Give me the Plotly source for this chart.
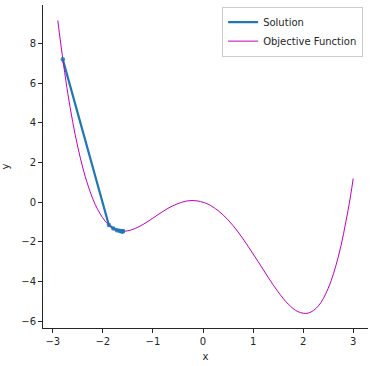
import plotly.graph_objects as go

# Objective function samples
obj_x = [-2.9, -2.7, -2.5, -2.3, -2.1, -1.9, -1.7, -1.5, -1.3, -1.1, -0.9, -0.7, -0.5, -0.3, -0.1,
         0.1, 0.3, 0.5, 0.7, 0.9, 1.1, 1.3, 1.5, 1.7, 1.9, 2.1, 2.3, 2.5, 2.7, 2.9, 3.0]
obj_y = [9.16, 5.49, 2.78, 0.87, -0.38, -1.10, -1.42, -1.44, -1.26, -0.97, -0.63, -0.31, -0.07, 0.07, 0.06,
         -0.10, -0.42, -0.89, -1.50, -2.22, -2.99, -3.78, -4.52, -5.13, -5.52, -5.59, -5.24, -4.34, -2.77, -0.36, 1.20]

# Solution path
sol_x = [-2.8, -1.88, -1.79, -1.72, -1.67, -1.64, -1.62, -1.61, -1.60, -1.60]
sol_y = [7.20, -1.15, -1.32, -1.41, -1.44, -1.46, -1.46, -1.46, -1.46, -1.46]

x_ticks = [-3, -2, -1, 0, 1, 2, 3]
y_ticks = [-6, -4, -2, 0, 2, 4, 6, 8]

fig = go.Figure()
fig.add_trace(go.Scatter(x=sol_x, y=sol_y, mode="lines", name="Solution",
                         line=dict(color="#1f77b4", width=2.2)))
fig.add_trace(go.Scatter(x=obj_x, y=obj_y, mode="lines", name="Objective Function",
                         line=dict(color="#bf00bf", width=1, shape="spline", smoothing=1.0)))
fig.add_trace(go.Scatter(x=sol_x, y=sol_y, mode="markers", showlegend=False,
                         marker=dict(size=4.5, color="#1f77b4", opacity=0.85)))

axis_common = dict(showline=True, linecolor="#262626", linewidth=1, ticks="outside",
                   ticklen=4, tickcolor="#262626", showgrid=False, zeroline=False,
                   tickfont=dict(family="DejaVu Sans", size=10, color="#262626"),
                   mirror=False)

fig.update_layout(
    width=375, height=366,
    margin=dict(l=43, r=7, t=5, b=38),
    plot_bgcolor="white", paper_bgcolor="white",
    font=dict(family="DejaVu Sans", size=10, color="#262626"),
    xaxis=dict(range=[-3.195, 3.295], tickvals=x_ticks,
               title=dict(text="x", standoff=6, font=dict(size=10)), **axis_common),
    yaxis=dict(range=[-6.34, 9.94], tickvals=y_ticks,
               title=dict(text="y", standoff=10, font=dict(size=10)), **axis_common),
    legend=dict(x=0.985, y=0.995, xanchor="right", yanchor="top",
                bgcolor="rgba(255,255,255,0.8)", bordercolor="#cccccc", borderwidth=1,
                font=dict(family="DejaVu Sans", size=10, color="#262626"),
                itemwidth=30, tracegroupgap=0),
    showlegend=True,
)

fig.write_html("out.html")
